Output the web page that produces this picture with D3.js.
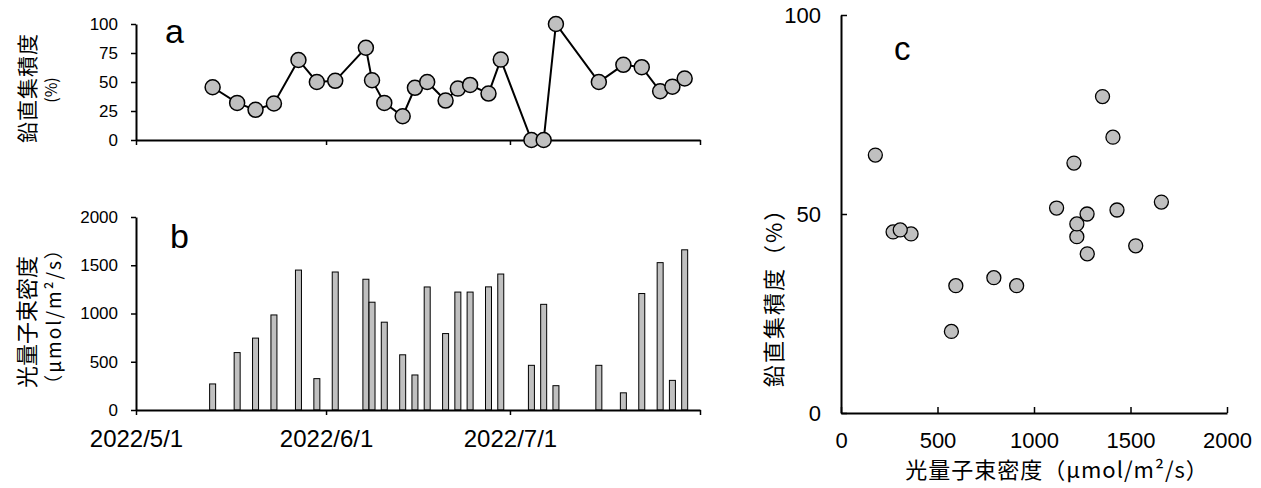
<!DOCTYPE html>
<html>
<head>
<meta charset="utf-8">
<script src="https://cdn.jsdelivr.net/npm/d3@7"></script>
<style>
  body { margin: 0; background: #fff; }
  text { font-family: "Noto Sans CJK JP", "Liberation Sans", sans-serif; fill: #000; }
  .letter { font-family: "Liberation Sans", Arial, sans-serif; }
</style>
</head>
<body>
<svg width="1261" height="488"></svg>
<script>
// measurement dates, photon flux density and vertical accumulation
var dates = ["2022-05-13","2022-05-17","2022-05-20","2022-05-23","2022-05-27","2022-05-30",
  "2022-06-02","2022-06-07","2022-06-08","2022-06-10","2022-06-13","2022-06-15","2022-06-17",
  "2022-06-20","2022-06-22","2022-06-24","2022-06-27","2022-06-29","2022-07-04","2022-07-06",
  "2022-07-08","2022-07-15","2022-07-19","2022-07-22","2022-07-25","2022-07-27","2022-07-29"];
var ppfd = [270, 595, 745, 985, 1450, 325,
  1430, 1355, 1117, 910, 572, 363, 1275,
  792, 1222, 1222, 1276, 1409, 463, 1095,
  252, 463, 178, 1207, 1527, 307, 1660];
var vertical = [45.5, 32, 26, 31.5, 69, 50,
  51, 79.5, 51.5, 32, 20.5, 45, 50,
  34, 44.3, 47.5, 40, 69.3, 0, 0,
  100, 50, 64.8, 62.8, 42, 46, 53];
// dates that appear in the scatter plot (c)
var scatterDates = ["2022-05-13","2022-05-17","2022-06-02","2022-06-07","2022-06-08","2022-06-10",
  "2022-06-13","2022-06-15","2022-06-17","2022-06-20","2022-06-22","2022-06-24","2022-06-27",
  "2022-06-29","2022-07-19","2022-07-22","2022-07-25","2022-07-27","2022-07-29"];

var yTicksA = [0, 25, 50, 75, 100];
var yTicksB = [0, 500, 1000, 1500, 2000];
var dateTicks = ["2022-05-01","2022-06-01","2022-07-01","2022-08-01"];
var dateLabels = ["2022/5/1","2022/6/1","2022/7/1",""];
var xTicksC = [0, 500, 1000, 1500, 2000];
var yTicksC = [0, 50, 100];

var parse = d3.timeParse("%Y-%m-%d");
var data = dates.map(function (d, i) {
  return { date: parse(d), key: d, ppfd: ppfd[i], v: vertical[i] };
});
var halfDay = 12 * 3600 * 1000;
var fmt = d3.format("d");

var svg = d3.select("svg");
svg.append("rect").attr("width", 1261).attr("height", 488).attr("fill", "#fff");

var x = d3.scaleTime()
  .domain([parse(dateTicks[0]), parse(dateTicks[3])])
  .range([136, 700]);
function xc(d) { return x(new Date(d.date.getTime() + halfDay)); }

function styleAxis(g, size) {
  g.selectAll("path.domain").attr("stroke", "#000").attr("stroke-width", 2);
  g.selectAll(".tick line").attr("stroke", "#000").attr("stroke-width", 1.5);
  g.selectAll(".tick text").attr("font-size", size + "px")
    .style("font-family", "'Liberation Sans', Arial, sans-serif");
}

// ---------- panel a ----------
var yA = d3.scaleLinear().domain([0, 100]).range([140, 24]);

var gAx = svg.append("g").attr("transform", "translate(0,140)")
  .call(d3.axisBottom(x).tickValues(dateTicks.map(parse)).tickSize(5).tickSizeOuter(0).tickFormat(""));
styleAxis(gAx, 17);
var gAy = svg.append("g").attr("transform", "translate(136,0)")
  .call(d3.axisLeft(yA).tickValues(yTicksA).tickSize(5).tickSizeOuter(0).tickPadding(13).tickFormat(fmt));
styleAxis(gAy, 17);

svg.append("path")
  .datum(data)
  .attr("fill", "none")
  .attr("stroke", "#000")
  .attr("stroke-width", 2)
  .attr("d", d3.line().x(xc).y(function (d) { return yA(d.v); }));

svg.append("g").selectAll("circle")
  .data(data).enter().append("circle")
  .attr("cx", xc)
  .attr("cy", function (d) { return yA(d.v); })
  .attr("r", 7.5)
  .attr("fill", "#c0c0c0")
  .attr("stroke", "#000")
  .attr("stroke-width", 1.5);

svg.append("text").attr("class", "letter").attr("x", 165).attr("y", 43)
  .attr("font-size", "34px").text("a");

svg.append("text").attr("transform", "translate(26,88) rotate(-90)")
  .attr("text-anchor", "middle").attr("dominant-baseline", "central")
  .attr("font-size", "21px").attr("letter-spacing", "1px").text("鉛直集積度");
svg.append("text").attr("transform", "translate(50,90) rotate(-90)")
  .attr("text-anchor", "middle").attr("dominant-baseline", "central")
  .attr("font-size", "16px").text("(%)");

// ---------- panel b ----------
var yB = d3.scaleLinear().domain([0, 2000]).range([410, 217]);

svg.append("g").selectAll("rect")
  .data(data).enter().append("rect")
  .attr("x", function (d) { return xc(d) - 3; })
  .attr("width", 6)
  .attr("y", function (d) { return yB(d.ppfd); })
  .attr("height", function (d) { return yB(0) - yB(d.ppfd); })
  .attr("fill", "#c0c0c0")
  .attr("stroke", "#000")
  .attr("stroke-width", 1);

var gBx = svg.append("g").attr("transform", "translate(0,410)")
  .call(d3.axisBottom(x).tickValues(dateTicks.map(parse)).tickSize(5).tickSizeOuter(0).tickPadding(15)
    .tickFormat(function (d, i) { return dateLabels[i]; }));
styleAxis(gBx, 24);
var gBy = svg.append("g").attr("transform", "translate(136,0)")
  .call(d3.axisLeft(yB).tickValues(yTicksB).tickSize(5).tickSizeOuter(0).tickPadding(13).tickFormat(fmt));
styleAxis(gBy, 17);

svg.append("text").attr("class", "letter").attr("x", 170).attr("y", 248)
  .attr("font-size", "34px").text("b");

svg.append("text").attr("transform", "translate(25,322) rotate(-90)")
  .attr("text-anchor", "middle").attr("dominant-baseline", "central")
  .attr("font-size", "22px").text("光量子束密度");
svg.append("text").attr("transform", "translate(52,316) rotate(-90)")
  .attr("text-anchor", "middle").attr("dominant-baseline", "central")
  .attr("font-size", "19px").attr("letter-spacing", "2px").text("（μmol/m²/s）");

// ---------- panel c ----------
var xC = d3.scaleLinear().domain([0, 2000]).range([841, 1227]);
var yC = d3.scaleLinear().domain([0, 100]).range([413, 15]);

var gCx = svg.append("g").attr("transform", "translate(0,413)")
  .call(d3.axisBottom(xC).tickValues(xTicksC).tickSize(-6).tickSizeOuter(0).tickPadding(19).tickFormat(fmt));
styleAxis(gCx, 22);
var gCy = svg.append("g").attr("transform", "translate(841,0)")
  .call(d3.axisLeft(yC).tickValues(yTicksC).tickSize(-6).tickSizeOuter(0).tickPadding(20).tickFormat(fmt));
styleAxis(gCy, 22);

var scatter = data.filter(function (d) { return scatterDates.indexOf(d.key) >= 0; });
svg.append("g").selectAll("circle")
  .data(scatter).enter().append("circle")
  .attr("cx", function (d) { return xC(d.ppfd); })
  .attr("cy", function (d) { return yC(d.v); })
  .attr("r", 7)
  .attr("fill", "#c0c0c0")
  .attr("stroke", "#000")
  .attr("stroke-width", 1.3);

svg.append("text").attr("class", "letter").attr("x", 894).attr("y", 60)
  .attr("font-size", "33px").text("c");

svg.append("text").attr("x", 1057).attr("y", 478)
  .attr("text-anchor", "middle").attr("font-size", "22px").attr("letter-spacing", "1px")
  .text("光量子束密度（μmol/m²/s）");
svg.append("text").attr("transform", "translate(772,292) rotate(-90)")
  .attr("text-anchor", "middle").attr("dominant-baseline", "central")
  .attr("font-size", "22px").attr("letter-spacing", "2px").text("鉛直集積度（%）");
</script>
</body>
</html>
